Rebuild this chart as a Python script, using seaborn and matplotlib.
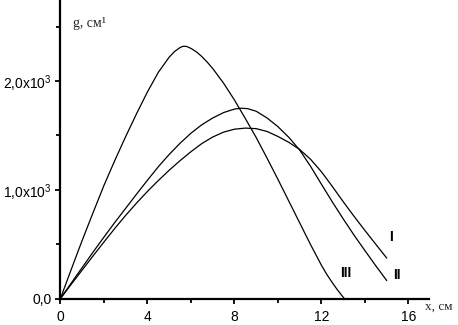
import matplotlib
matplotlib.use("Agg")
import matplotlib.pyplot as plt
import seaborn as sns
import pandas as pd
from matplotlib.ticker import FixedLocator

# данные (x в см, g в см^-1)
x_I = [0, 0.5, 1, 1.5, 2, 2.5, 3, 3.5, 4, 4.5, 5, 5.5, 6, 6.5, 7, 7.5, 8, 8.5, 9, 9.5,
       10, 10.5, 11, 11.5, 12, 12.5, 13, 13.5, 14, 14.5, 15]
g_I = [0, 132, 262, 392, 520, 645, 765, 878, 985, 1085, 1180, 1268, 1350, 1425, 1485, 1530,
       1557, 1567, 1562, 1536, 1490, 1436, 1370, 1280, 1165, 1030, 890, 755, 625, 498, 372]

x_II = [0, 0.5, 1, 1.5, 2, 2.5, 3, 3.5, 4, 4.5, 5, 5.5, 6, 6.5, 7, 7.5, 8, 8.3, 8.6, 9, 9.5,
        10, 10.5, 11, 11.5, 12, 12.5, 13, 13.5, 14, 14.5, 15]
g_II = [0, 143, 285, 427, 565, 700, 830, 960, 1088, 1212, 1325, 1428, 1520, 1598, 1660, 1710,
        1742, 1750, 1746, 1722, 1660, 1580, 1482, 1365, 1215, 1050, 888, 732, 582, 440, 300, 165]

x_III = [0, 0.5, 1, 1.5, 2, 2.5, 3, 3.5, 4, 4.5, 5, 5.25, 5.5, 5.65, 5.8, 6, 6.25, 6.5, 6.75,
         7, 7.5, 8, 8.5, 9, 9.5, 10, 10.5, 11, 11.5, 12, 12.25, 12.5, 12.75, 13.05]
g_III = [0, 270, 535, 790, 1040, 1270, 1490, 1700, 1900, 2080, 2220, 2272, 2308, 2320, 2318,
         2300, 2268, 2225, 2173, 2115, 1980, 1825, 1655, 1480, 1290, 1095, 895, 695, 495, 305,
         220, 145, 75, 0]

curve_names = ["I", "II", "III"]
label_pos = [(15.2, 570), (15.47, 216), (13.12, 237)]

sns.set_style("ticks")
plt.rcParams['font.family'] = ['Liberation Sans', 'DejaVu Sans']
plt.rcParams['mathtext.fontset'] = 'custom'
plt.rcParams['mathtext.rm'] = 'Liberation Sans'

fig = plt.figure(figsize=(4.58, 3.25), dpi=100)
ax = fig.add_axes([0.132, 0.0815, 0.805, 0.9185])

for xs, gs in [(x_I, g_I), (x_II, g_II), (x_III, g_III)]:
    df = pd.DataFrame({'x': xs, 'g': gs})
    sns.lineplot(data=df, x='x', y='g', ax=ax, color='black', linewidth=0.9,
                 sort=False, estimator=None)

for name, (tx, ty) in zip(curve_names, label_pos):
    ax.text(tx, ty, name, ha='center', va='center', fontsize=10, fontweight='bold',
            color='black')

ax.set_xlim(0, 16.95)
ax.set_ylim(0, 2745)
ax.xaxis.set_major_locator(FixedLocator([0, 4, 8, 12, 16]))
ax.xaxis.set_minor_locator(FixedLocator([2, 6, 10, 14]))
ax.yaxis.set_major_locator(FixedLocator([0, 1000, 2000]))
ax.yaxis.set_minor_locator(FixedLocator([500, 1500, 2500]))
ax.set_xticklabels(['0', '4', '8', '12', '16'])
ax.set_yticklabels(['0,0', r'1,0x10$^{3}$', r'2,0x10$^{3}$'])
ax.tick_params(axis='both', which='major', direction='out', length=3.5, width=1.3,
               labelsize=10, color='black', labelcolor='black')
ax.tick_params(axis='both', which='minor', direction='out', length=3, width=1.3, color='black')
ax.tick_params(axis='x', which='major', pad=5)
ax.tick_params(axis='y', which='major', pad=3)

sns.despine(ax=ax)
for s in ['left', 'bottom']:
    ax.spines[s].set_linewidth(1.6)
    ax.spines[s].set_color('black')

ax.set_xlabel('')
ax.set_ylabel('')
ax.text(0.034, 0.92, 'g, см¹', transform=ax.transAxes, ha='left', va='center',
        fontsize=10, family=['Liberation Serif', 'DejaVu Serif'])
fig.text(0.928, 0.055, 'x, см', ha='left', va='center',
         fontsize=9.5, family=['Liberation Serif', 'DejaVu Serif'])

fig.savefig('out.png', dpi=100)
